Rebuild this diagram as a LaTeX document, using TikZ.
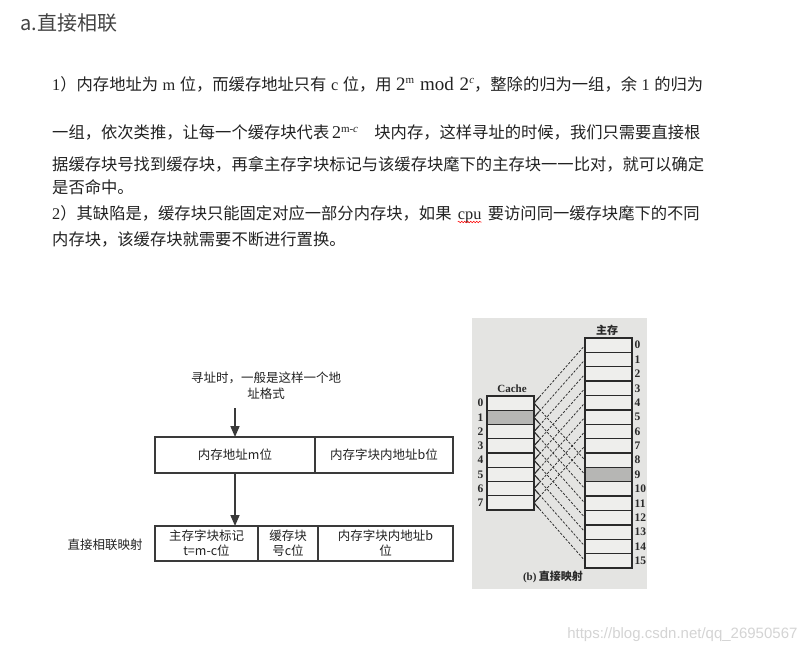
\documentclass[tikz,border=0pt]{standalone}
\usepackage{fontspec}
\setmainfont{Noto Sans CJK SC}
\newfontfamily\tnr{Liberation Serif}
\newfontfamily\lsans{Liberation Sans}
\usetikzlibrary{positioning,arrows.meta,calc,decorations.pathmorphing}
\definecolor{ink}{HTML}{222222}
\definecolor{boxline}{HTML}{3A3A3A}
\definecolor{scanbg}{HTML}{E4E4E2}
\definecolor{cellfill}{HTML}{EEEEEC}
\definecolor{cellhit}{HTML}{B6B6B4}
\definecolor{cellline}{HTML}{2A2A2A}
\definecolor{mark}{HTML}{D4D4D4}
\newcommand\modpow{{\tnr\fontsize{19}{19}\selectfont 2\raisebox{7pt}{\fontsize{11}{11}\selectfont m} mod 2\raisebox{7pt}{\fontsize{11}{11}\selectfont\itshape c}}}
\newcommand\blkpow{{\tnr\fontsize{18}{18}\selectfont 2\raisebox{6pt}{\fontsize{11}{11}\selectfont m-\itshape c}}}

\begin{document}
\begin{tikzpicture}[x=1pt, y=-1pt,
  para/.style={anchor=base west, inner sep=0pt, font=\fontsize{16.3}{16}\selectfont, text=ink},
  field/.style={draw=boxline, line width=1.3pt, outer sep=0pt, inner sep=1pt, align=center,
    text=ink, font=\fontsize{12.5}{15}\selectfont},
  arr/.style={draw=boxline, line width=1.6pt, -{Triangle[length=11pt,width=9pt]}},
  cell/.style={draw=cellline, line width=1.3pt, outer sep=0pt, inner sep=0pt, minimum width=47pt},
  num/.style={inner sep=0pt, text=cellline, font=\tnr\bfseries\fontsize{11.5}{11}\selectfont},
  link/.style={line width=0.75pt, dash pattern=on 2.4pt off 1.6pt, draw=cellline}]
\useasboundingbox[fill=white] (0,0) rectangle (809,654);
% heading
\node[anchor=west, inner sep=0pt, font=\fontsize{20}{20}\selectfont, text=ink!85] (title) at (20,23) {a.直接相联};
% the text
\node[para] (l1) at (52,90) {\makebox[651pt][s]{{\tnr 1}）内存地址为 {\tnr m} 位，而缓存地址只有 {\tnr c} 位，用 \modpow ，整除的归为一组，余 {\tnr 1} 的归为}};
\node[para] (l2) at (52,138) {\makebox[651pt][s]{一组，依次类推，让每一个缓存块代表\,\blkpow\quad 块内存，这样寻址的时候，我们只需要直接根}};
\node[para] (l3) at (52,170) {据缓存块号找到缓存块，再拿主存字块标记与该缓存块麾下的主存块一一比对，就可以确定};
\node[para] (l4) at (52,193) {是否命中。};
\node[para] (l5) at (52,219) {{\tnr 2}）其缺陷是，缓存块只能固定对应一部分内存块，如果};
\node[para] (cpu) at ([xshift=6pt]l5.base east) {\tnr cpu};
\node[para] (l5b) at ([xshift=6pt]cpu.base east) {要访问同一缓存块麾下的不同};
\draw[red, line width=0.5pt, decorate, decoration={snake, amplitude=0.8pt, segment length=3pt}]
  ([yshift=-3pt]cpu.base west) -- ([yshift=-3pt]cpu.base east);
\node[para] (l6) at (52,245) {内存块，该缓存块就需要不断进行置换。};
% address format
\node[text=ink, align=center, font=\fontsize{12.5}{16}\selectfont] (hint) at (266,386) {寻址时，一般是这样一个地\\址格式};
\coordinate (start) at (235,408);
\node[field, minimum width=160pt, minimum height=36pt] (addr) at (235,455) {内存地址m位};
\node[field, minimum width=138pt, minimum height=36pt, right=0pt of addr] (inblk) {内存字块内地址b位};
\node[field, minimum width=103pt, minimum height=35pt] (tag) at (206.5,543.5) {主存字块标记\\t=m-c位};
\node[field, minimum width=60pt, minimum height=35pt, right=0pt of tag] (cidx) {缓存块\\号c位};
\node[field, minimum width=135pt, minimum height=35pt, right=0pt of cidx] (woff) {内存字块内地址b\\位};
\node[text=ink, font=\fontsize{12.5}{15}\selectfont] (kind) at (105,545) {直接相联映射};
\draw[arr] (start) -- (addr.north);
\draw[arr] (addr.south) -- (addr.south |- tag.north);
% scanned figure (b)
\fill[scanbg] (472,318) rectangle (647,589);
\node[text=cellline, font=\bfseries\fontsize{11}{11}\selectfont] (mainlbl) at (607,330) {主存};
\node[text=cellline, font=\tnr\bfseries\fontsize{11}{11}\selectfont] (cachelbl) at (512,389) {Cache};
\foreach \i in {0,...,15} {
  \ifnum\i=9 \def\shade{cellhit}\else\def\shade{cellfill}\fi
  \node[cell, fill=\shade, minimum height=14.375pt] (m\i) at (608.5,345.2+14.375*\i) {};
  \node[num, anchor=west] (mn\i) at ([xshift=2.5pt]m\i.east) {\i};
}
\foreach \i in {0,...,7} {
  \ifnum\i=1 \def\shade{cellhit}\else\def\shade{cellfill}\fi
  \node[cell, fill=\shade, minimum height=14.25pt] (c\i) at (510.5,403.1+14.25*\i) {};
  \node[num] (cn\i) at ([xshift=-6.5pt]c\i.west) {\i};
}
\foreach \i [evaluate=\i as \j using int(\i+8)] in {0,...,7} {
  \draw[link] (c\i.east) -- (m\i.west);
  \draw[link] (c\i.east) -- (m\j.west);
  \draw[cellline, line width=1pt] (c\i.east) -- ($(c\i.east)!8pt!(m\i.west)$);
  \draw[cellline, line width=1pt] (c\i.east) -- ($(c\i.east)!8pt!(m\j.west)$);
}
\node[text=cellline, font=\bfseries\fontsize{11}{11}\selectfont] (caption) at (553,577) {{\tnr (b)} 直接映射};
% watermark
\node[anchor=east, text=mark, font=\lsans\fontsize{15}{15}\selectfont] (wm) at (801,635) {https://blog.csdn.net/qq\_26950567};
\end{tikzpicture}
\end{document}
